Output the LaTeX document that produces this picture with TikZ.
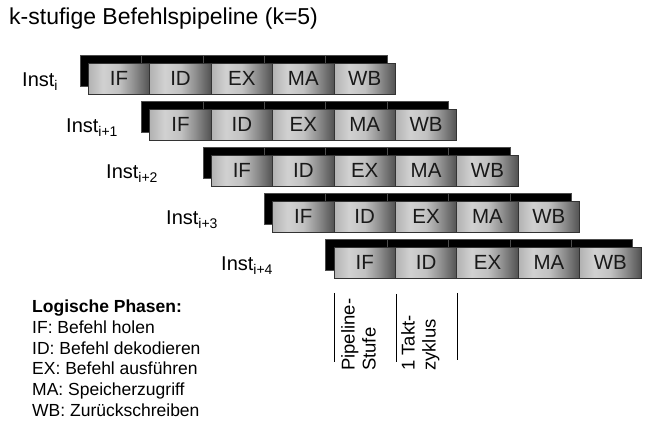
\documentclass[tikz,border=0pt]{standalone}
\usepackage{fontspec}
\setmainfont{Liberation Sans}
\pgfdeclarehorizontalshading{stageshade}{100bp}{color(0bp)=(black!30); color(25bp)=(black!30); color(37bp)=(black!18); color(50bp)=(black!24); color(62bp)=(black!44); color(75bp)=(black!68); color(100bp)=(black!68)}
\begin{document}
\begin{tikzpicture}[x=1pt,y=-1pt,
  stage/.style={draw=black!80, line width=0.8pt, shading=stageshade, minimum width=61.4pt, minimum height=31pt, inner sep=0pt, anchor=north west, text=black!90, font=\fontsize{20.5}{24}\selectfont},
  shadowbox/.style={fill=black, draw=black!70, line width=0.5pt},
  instlabel/.style={anchor=base west, inner sep=0pt, font=\fontsize{20}{24}\selectfont},
  legendline/.style={anchor=base west, inner sep=0pt, font=\fontsize{17.5}{21}\selectfont},
  rotlabel/.style={rotate=90, anchor=north west, align=left, inner sep=0pt, font=\fontsize{18.5}{21}\selectfont},
  sepline/.style={draw=black, line width=0.9pt}]
\useasboundingbox (0,0) rectangle (646,430);
\node[anchor=base west, inner sep=0pt, font=\fontsize{23}{27}\selectfont] (title) at (9,24.5) {k-stufige Befehlspipeline (k=5)};
% shadows
\foreach \r in {0,...,4} {
  \pgfmathsetmacro\X{88+61.4*\r}
  \pgfmathsetmacro\Y{63+46*\r}
  \foreach \c in {0,...,4} {
    \filldraw[shadowbox] (\X+61.4*\c-8, \Y-8) rectangle ++(61.4,31);
  }
}
% stages and labels
\foreach \r/\sub/\lx in {0/i/22, 1/i+1/66, 2/i+2/106, 3/i+3/166, 4/i+4/221} {
  \pgfmathsetmacro\X{88+61.4*\r}
  \pgfmathsetmacro\Y{63+46*\r}
  \foreach \c/\t in {0/IF,1/ID,2/EX,3/MA,4/WB} {
    \node[stage] (b\r\c) at (\X+61.4*\c, \Y) {\t};
  }
  \node[instlabel] (inst\r) at (\lx, \Y+24) {Inst\textsubscript{\sub}};
}
% legend
\node[legendline] (lg0) at (32,313) {\textbf{Logische Phasen:}};
\node[legendline] (lg1) at (32,334) {IF: Befehl holen};
\node[legendline] (lg2) at (32,354.5) {ID: Befehl dekodieren};
\node[legendline] (lg3) at (32,375) {EX: Befehl ausführen};
\node[legendline] (lg4) at (32,396) {MA: Speicherzugriff};
\node[legendline] (lg5) at (32,417) {WB: Zurückschreiben};
% separator lines
\coordinate (s1t) at (334,293); \coordinate (s1b) at (334,362);
\coordinate (s2t) at (396,294); \coordinate (s2b) at (396,362);
\coordinate (s3t) at (457,293); \coordinate (s3b) at (457,360);
\draw[sepline] (s1t) -- (s1b);
\draw[sepline] (s2t) -- (s2b);
\draw[sepline] (s3t) -- (s3b);
\node[rotlabel] (pst) at (341,371) {Pipeline-\\Stufe};
\node[rotlabel] (tz) at (401,371) {1 Takt-\\zyklus};
\end{tikzpicture}
\end{document}
